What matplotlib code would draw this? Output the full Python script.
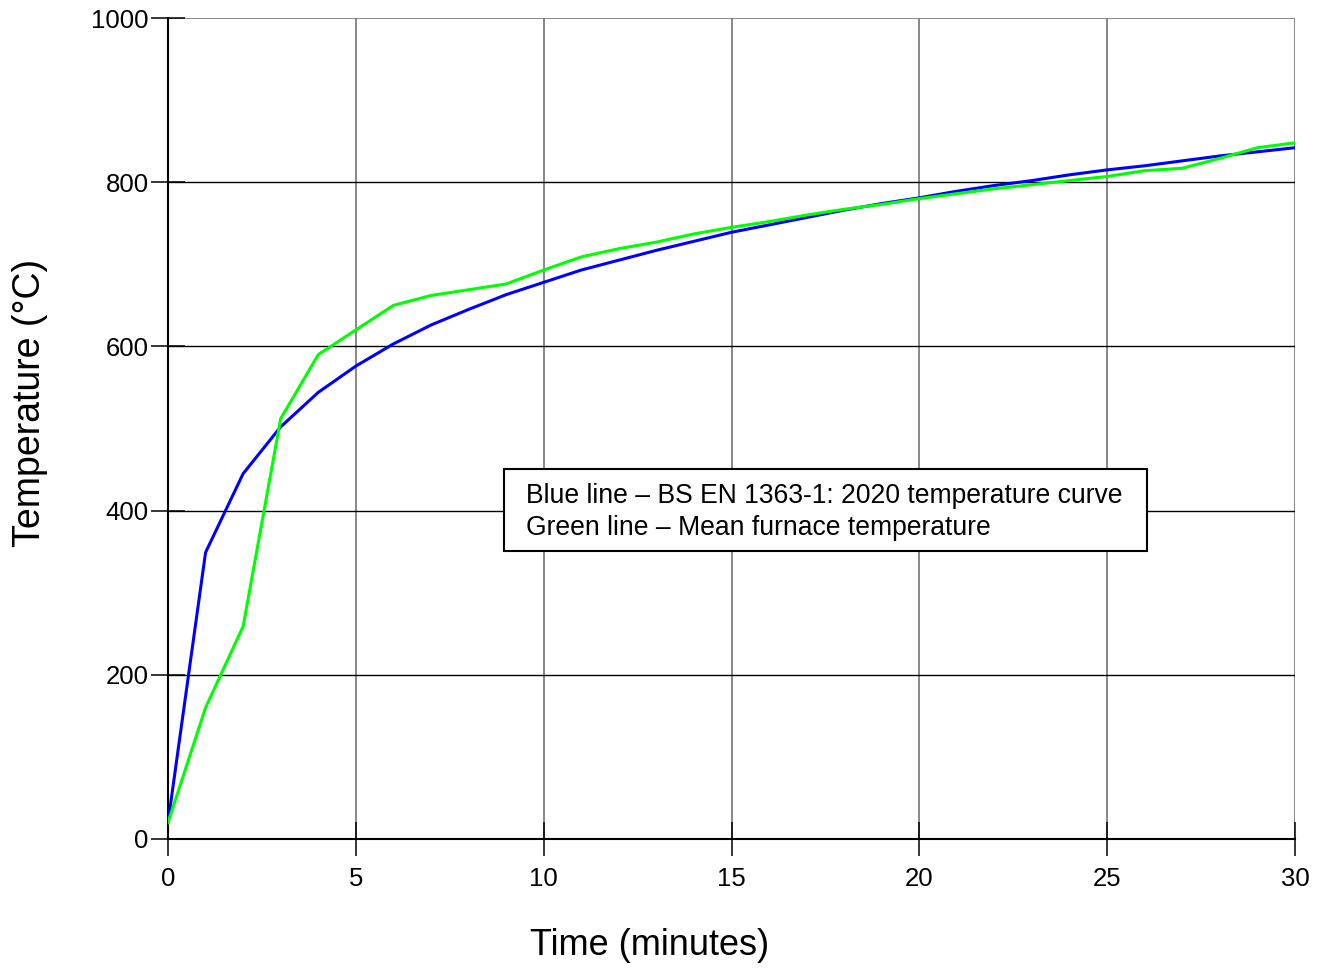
import matplotlib
matplotlib.use("Agg")
import matplotlib.pyplot as plt
from matplotlib.patches import Rectangle

plt.rcParams['font.family'] = ['Liberation Sans', 'DejaVu Sans']

minutes = list(range(0, 31))
standard_curve = [20, 349, 445, 502, 544, 576, 603, 626, 645, 663,
                  678, 693, 705, 717, 728, 739, 748, 757, 766, 774,
                  781, 789, 796, 802, 809, 815, 820, 826, 832, 837, 842]
furnace_mean = [20, 160, 259, 512, 590, 620, 650, 662, 669, 676,
                693, 709, 719, 727, 737, 745, 752, 760, 767, 773,
                780, 786, 792, 797, 802, 807, 814, 817, 829, 842, 848]

x_ticks = [0, 5, 10, 15, 20, 25, 30]
y_ticks = [0, 200, 400, 600, 800, 1000]
note = ("Blue line \u2013 BS EN 1363-1: 2020 temperature curve\n"
        "Green line \u2013 Mean furnace temperature")

fig = plt.figure(figsize=(13.27, 9.68), dpi=100)
ax = fig.add_axes([0.1266, 0.1333, 0.8493, 0.8481])

# grid: vertical grey, horizontal black (top one grey like the frame)
for xv in x_ticks[1:]:
    ax.axvline(xv, color='#7f7f7f', lw=1.3, zorder=1)
for yv in y_ticks[1:-1]:
    ax.axhline(yv, color='black', lw=1.0, zorder=1)
ax.axhline(y_ticks[-1], color='#7f7f7f', lw=1.3, zorder=1)

ax.plot(minutes, standard_curve, color='#0000ff', lw=2.2, zorder=3)
ax.plot(minutes, furnace_mean, color='#00ff00', lw=2.2, zorder=3)

ax.set_xlim(0, 30)
ax.set_ylim(0, 1000)
ax.set_xticks(x_ticks)
ax.set_yticks(y_ticks)

for side in ['top', 'right']:
    ax.spines[side].set_visible(False)
ax.spines['left'].set_linewidth(1.5)
ax.spines['bottom'].set_linewidth(1.5)

ax.tick_params(axis='both', direction='inout', length=25, width=1.1,
               labelsize=18.5)
ax.tick_params(axis='x', pad=7.5)
ax.tick_params(axis='y', pad=1.5)

ax.set_xlabel('Time (minutes)', fontsize=26)
ax.xaxis.set_label_coords(0.4277, -0.109)
ax.set_ylabel('Temperature (\u00b0C)', fontsize=27)
ax.yaxis.set_label_coords(-0.1065, 0.5317)

ax.add_patch(Rectangle((0.298, 0.3508), 0.5705, 0.0999, transform=ax.transAxes,
                       facecolor='white', edgecolor='black', lw=1.5, zorder=4))
ax.text(0.3177, 0.3985, note, transform=ax.transAxes, fontsize=19.1,
        va='center', ha='left', linespacing=1.3, zorder=5)

fig.savefig('out.png', dpi=100)
